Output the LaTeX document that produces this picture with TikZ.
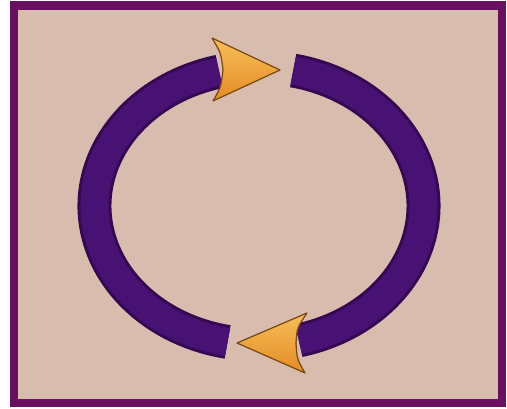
\documentclass[tikz,border=0pt]{standalone}
\usetikzlibrary{calc}
\definecolor{frame}{HTML}{690F5F}
\definecolor{paper}{HTML}{D8BDAE}
\definecolor{bandD}{HTML}{360852}
\definecolor{bandL}{HTML}{481174}
\definecolor{arrL}{HTML}{F8BE5A}
\definecolor{arrD}{HTML}{E38C24}
\definecolor{arrE}{HTML}{7A4712}
\begin{document}
\begin{tikzpicture}[x=1pt,y=1pt,
  band/.style={line width=34pt, draw=bandD, line cap=butt},
  bandcore/.style={line width=28pt, draw=bandL, line cap=butt},
  headstyle/.style={draw=arrE, line width=1.2pt, line join=round, top color=arrL, bottom color=arrD}]
\useasboundingbox (0,0) rectangle (507,409);
\fill[white] (0,0) rectangle (507,409);
\fill[frame] (10,2) rectangle (506,408);
\fill[paper] (18,10) rectangle (498,399);
\coordinate (c) at (259,203);
% left arc
\coordinate (ls) at ($(c)+(104:164.5 and 138.5)$);
\coordinate (rs) at ($(c)+(78:164.5 and 138.5)$);
\draw[band] (ls) arc[start angle=104, end angle=259, x radius=164.5, y radius=138.5];
\draw[bandcore] (ls) arc[start angle=104, end angle=259, x radius=164.5, y radius=138.5];
% right arc
\draw[band] (rs) arc[start angle=78, end angle=-76, x radius=164.5, y radius=138.5];
\draw[bandcore] (rs) arc[start angle=78, end angle=-76, x radius=164.5, y radius=138.5];
% top arrowhead
\coordinate (ttip) at (280,339);
\coordinate (tbt) at (212,371);
\coordinate (tnotch) at (223,339);
\coordinate (tbb) at (213,308);
\filldraw[headstyle] (ttip) -- (tbt) .. controls (221,356) .. (tnotch) .. controls (221,322) .. (tbb) -- cycle;
% bottom arrowhead
\coordinate (btip) at (237,66);
\coordinate (bbt) at (307,96);
\coordinate (bnotch) at (296,66);
\coordinate (bbb) at (305,36);
\filldraw[headstyle] (btip) -- (bbt) .. controls (297,81) .. (bnotch) .. controls (297,50) .. (bbb) -- cycle;
\end{tikzpicture}
\end{document}
